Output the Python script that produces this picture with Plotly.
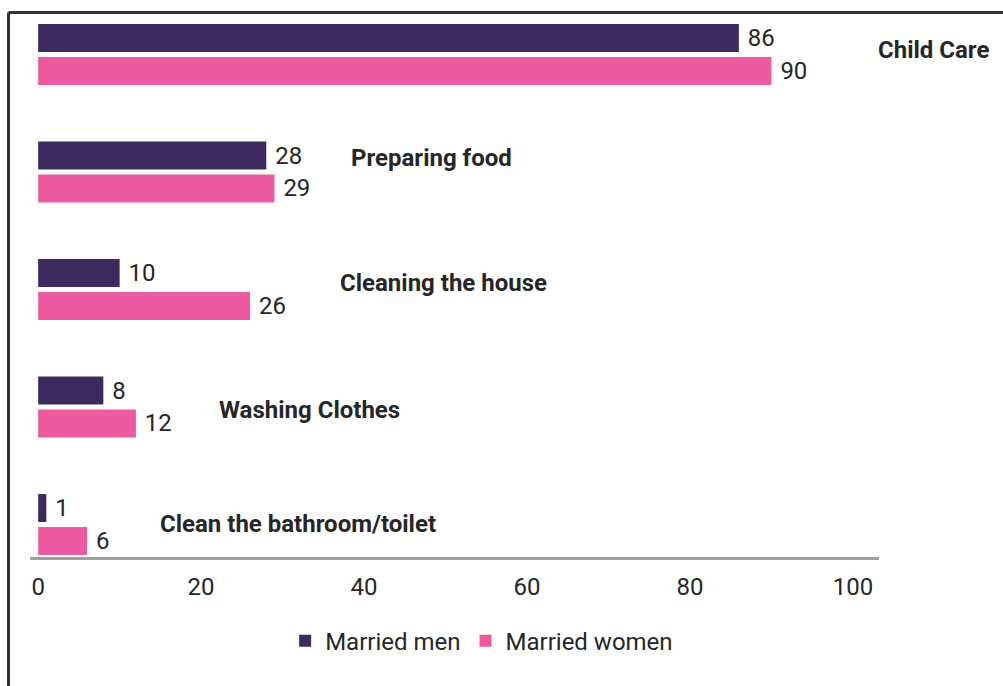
import plotly.graph_objects as go

# Share of married respondents doing each household task (%)
categories = ["Child Care", "Preparing food", "Cleaning the house",
              "Washing Clothes", "Clean the bathroom/toilet"]
married_men = [86, 28, 10, 8, 1]
married_women = [90, 29, 26, 12, 6]
x_ticks = [0, 20, 40, 60, 80, 100]

MEN_COLOR = "#3D2A5E"
WOMEN_COLOR = "#EE5A9F"
TEXT_COLOR = "#262626"
FONT = "Roboto"
SIZE = 24

fig = go.Figure()
fig.add_trace(go.Bar(
    y=categories, x=married_men, name="Married men", orientation="h",
    marker=dict(color=MEN_COLOR, line=dict(width=0)),
    texttemplate=" %{x}", textposition="outside", cliponaxis=False,
    textfont=dict(family=FONT, size=SIZE, color=TEXT_COLOR),
))
fig.add_trace(go.Bar(
    y=categories, x=married_women, name="Married women", orientation="h",
    marker=dict(color=WOMEN_COLOR, line=dict(width=0)),
    texttemplate=" %{x}", textposition="outside", cliponaxis=False,
    textfont=dict(family=FONT, size=SIZE, color=TEXT_COLOR),
))

# Category names written beside each pair of bars
label_x = [102.8, 38.2, 36.8, 21.9, 14.7]
label_shift = [4.5, 14, 6, -3, 0]
for cat, lx, dy in zip(categories, label_x, label_shift):
    fig.add_annotation(
        x=lx, y=cat, xref="x", yref="y", text="<b>%s</b>" % cat,
        showarrow=False, xanchor="left", yanchor="middle", yshift=dy,
        font=dict(family=FONT, size=SIZE, color=TEXT_COLOR),
    )

# Frame lines along the top and left of the figure
frame = dict(color="#333333", width=3)
fig.add_shape(type="line", xref="paper", yref="paper",
              x0=-0.0253, x1=1.2, y0=1.0028, y1=1.0028, line=frame)
fig.add_shape(type="line", xref="paper", yref="paper",
              x0=-0.0253, x1=-0.0253, y0=1.0028, y1=-0.3, line=frame)

fig.update_layout(
    width=1003, height=686,
    margin=dict(l=30, r=124, t=14, b=129),
    paper_bgcolor="white", plot_bgcolor="white",
    barmode="group", bargap=0.44, bargroupgap=0.15,
    font=dict(family=FONT, size=SIZE, color=TEXT_COLOR),
    showlegend=True,
    legend=dict(orientation="h", x=0.532, xanchor="center",
                y=-0.155, yanchor="middle",
                font=dict(family=FONT, size=SIZE, color=TEXT_COLOR),
                itemwidth=30, tracegroupgap=0),
    xaxis=dict(range=[-1.0, 103.2], tickvals=x_ticks, showgrid=False,
               zeroline=False, showline=True, linecolor="#A0A0A0",
               linewidth=3, ticks="", ticklabelstandoff=6,
               tickfont=dict(family=FONT, size=SIZE, color=TEXT_COLOR)),
    yaxis=dict(type="category", categoryorder="array",
               categoryarray=categories, range=[4.277, -0.345],
               showticklabels=False, showgrid=False, zeroline=False,
               showline=False, ticks=""),
)

fig.write_html("out.html")
